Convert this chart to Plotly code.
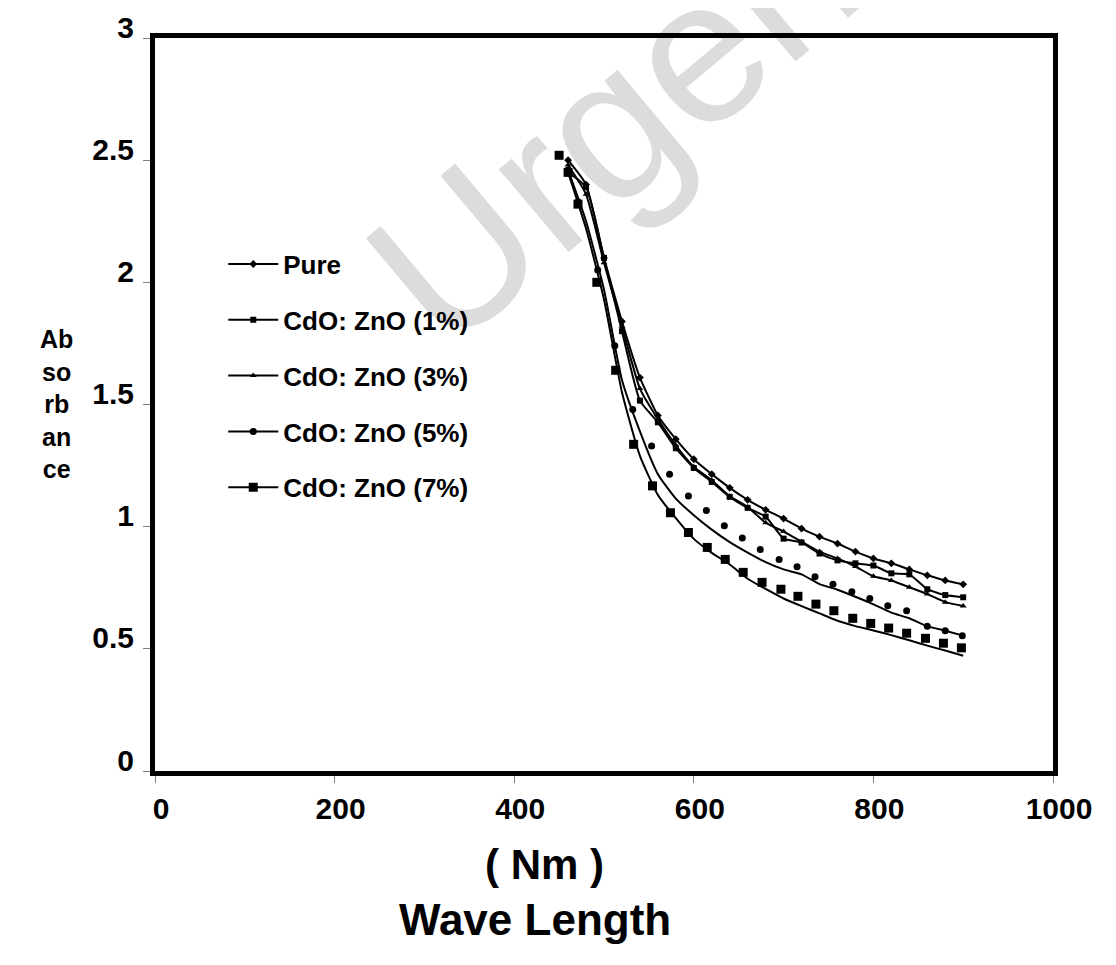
import plotly.graph_objects as go

# ---------------- data ----------------
wavelength = [460, 480, 500, 520, 540, 560, 580, 600, 620, 640, 660, 680,
              700, 720, 740, 760, 780, 800, 820, 840, 860, 880, 900]

pure = [2.50, 2.40, 2.10, 1.84, 1.61, 1.455, 1.358, 1.276, 1.215, 1.159, 1.110, 1.069,
        1.033, 0.992, 0.959, 0.931, 0.898, 0.870, 0.850, 0.825, 0.801, 0.780, 0.764]
zno_1 = [2.45, 2.39, 2.10, 1.80, 1.516, 1.427, 1.321, 1.240, 1.183, 1.122, 1.077, 1.041,
         0.951, 0.935, 0.890, 0.862, 0.850, 0.841, 0.809, 0.805, 0.744, 0.720, 0.711]
zno_3 = [2.48, 2.36, 2.08, 1.82, 1.565, 1.44, 1.333, 1.245, 1.19, 1.125, 1.08, 1.016,
         0.980, 0.939, 0.898, 0.870, 0.837, 0.797, 0.780, 0.752, 0.724, 0.691, 0.675]
zno_5_line = [2.46, 2.25, 1.97, 1.60, 1.39, 1.215, 1.115, 1.047, 0.988, 0.937, 0.894, 0.855,
              0.825, 0.805, 0.765, 0.742, 0.713, 0.682, 0.648, 0.625, 0.593, 0.574, 0.554]
zno_7_line = [2.45, 2.22, 1.93, 1.55, 1.29, 1.13, 1.035, 0.95, 0.893, 0.845, 0.787, 0.745,
              0.706, 0.675, 0.645, 0.615, 0.593, 0.575, 0.556, 0.535, 0.513, 0.493, 0.472]

zno_5_mx = [450, 471, 493, 512, 532, 553, 573, 594, 614, 634, 654, 674,
            695, 715, 735, 755, 776, 796, 816, 837, 860, 880, 899]
zno_5_my = [2.52, 2.33, 2.05, 1.74, 1.48, 1.33, 1.215, 1.126, 1.066, 1.004, 0.954, 0.907,
            0.866, 0.836, 0.795, 0.764, 0.734, 0.706, 0.676, 0.656, 0.592, 0.574, 0.554]
zno_7_mx = [450, 471, 492, 513, 533, 554, 574, 594, 615, 635, 655, 676,
            697, 716, 736, 756, 777, 797, 817, 837, 858, 878, 898]
zno_7_my = [2.52, 2.32, 2.00, 1.64, 1.337, 1.167, 1.057, 0.976, 0.915, 0.866, 0.813, 0.772,
            0.744, 0.715, 0.683, 0.656, 0.625, 0.604, 0.585, 0.564, 0.543, 0.523, 0.504]

names = ["Pure", "CdO: ZnO (1%)", "CdO: ZnO (3%)", "CdO: ZnO (5%)", "CdO: ZnO (7%)"]
x_ticks = [0, 200, 400, 600, 800, 1000]
y_ticks = [0, 0.5, 1, 1.5, 2, 2.5, 3]
y_tick_text = ["0", "0.5", "1", "1.5", "2", "2.5", "3"]

FONT = "Liberation Sans, Arial, sans-serif"
BLACK = "black"

fig = go.Figure()

line_style = dict(color=BLACK, width=2, shape="spline", smoothing=0.5)

fig.add_trace(go.Scatter(x=wavelength, y=pure, name=names[0], mode="lines+markers",
                         line=line_style, legendgroup="g1",
                         marker=dict(symbol="diamond", size=6, color=BLACK)))
fig.add_trace(go.Scatter(x=wavelength, y=zno_1, name=names[1], mode="lines+markers",
                         line=line_style, legendgroup="g2",
                         marker=dict(symbol="square", size=6, color=BLACK)))
fig.add_trace(go.Scatter(x=wavelength, y=zno_3, name=names[2], mode="lines+markers",
                         line=line_style, legendgroup="g3",
                         marker=dict(symbol="triangle-up", size=6, color=BLACK)))

# 5% and 7%: smooth line plus separate marker points
first_only = lambda n: [BLACK] + ["rgba(0,0,0,0)"] * (n - 1)
fig.add_trace(go.Scatter(x=wavelength, y=zno_5_line, name=names[3], mode="lines+markers",
                         line=line_style, legendgroup="g4",
                         marker=dict(symbol="circle", size=7, color=first_only(len(wavelength)))))
fig.add_trace(go.Scatter(x=zno_5_mx, y=zno_5_my, name=names[3], mode="markers",
                         showlegend=False, legendgroup="g4",
                         marker=dict(symbol="circle", size=7, color=BLACK)))
fig.add_trace(go.Scatter(x=wavelength, y=zno_7_line, name=names[4], mode="lines+markers",
                         line=line_style, legendgroup="g5",
                         marker=dict(symbol="square", size=9, color=first_only(len(wavelength)))))
fig.add_trace(go.Scatter(x=zno_7_mx, y=zno_7_my, name=names[4], mode="markers",
                         showlegend=False, legendgroup="g5",
                         marker=dict(symbol="square", size=9, color=BLACK)))

# watermark (drawn beneath the data)
fig.add_shape(type="line", xref="paper", yref="paper",
              x0=0.50, y0=0.930, x1=0.54, y1=0.930, layer="below",
              line=dict(width=0, color="rgba(0,0,0,0)"),
              label=dict(text="Urgent", textangle=-40, textposition="middle",
                         xanchor="center", yanchor="middle",
                         font=dict(family=FONT, size=205, color="#dcdcdc")))

# page has an 8px body margin: figure is sized so that it fits the 1116x965 window
fig.update_layout(
    width=1100, height=949,
    margin=dict(l=147, r=55, t=30, b=186, autoexpand=False),
    paper_bgcolor="white", plot_bgcolor="white",
    font=dict(family=FONT, color=BLACK),
    showlegend=True,
    legend=dict(x=0.076, y=0.7236, xanchor="left", yanchor="top",
                bgcolor="rgba(0,0,0,0)", borderwidth=0, itemwidth=50,
                traceorder="grouped", tracegroupgap=19,
                font=dict(family=FONT, size=26, color=BLACK, weight="bold")),
)

fig.update_xaxes(range=[0, 1000], tickvals=x_ticks, ticktext=[str(v) for v in x_ticks],
                 showgrid=False, zeroline=False, automargin=False,
                 showline=True, linecolor=BLACK, linewidth=5, mirror=True,
                 ticks="outside", ticklen=7, tickwidth=1, tickcolor="#808080",
                 ticklabelstandoff=0, ticklabelshift=6,
                 tickfont=dict(family=FONT, size=30, color=BLACK, weight="bold"))
fig.update_yaxes(range=[0, 3], tickvals=y_ticks, ticktext=y_tick_text,
                 showgrid=False, zeroline=False, automargin=False,
                 showline=True, linecolor=BLACK, linewidth=5, mirror=True,
                 ticks="outside", ticklen=7, tickwidth=1, tickcolor="#808080",
                 ticklabelstandoff=3, ticklabelshift=-11,
                 tickfont=dict(family=FONT, size=30, color=BLACK, weight="bold"))

# axis titles
fig.add_annotation(text="( Nm )", xref="paper", yref="paper", x=0.434, y=-0.128,
                   showarrow=False, xanchor="center", yanchor="middle",
                   font=dict(family=FONT, size=42, color=BLACK, weight="bold"))
fig.add_annotation(text="Wave Length", xref="paper", yref="paper", x=0.423, y=-0.203,
                   showarrow=False, xanchor="center", yanchor="middle",
                   font=dict(family=FONT, size=44, color=BLACK, weight="bold"))
fig.add_annotation(text="Ab<br>so<br>rb<br>an<br>ce", xref="paper", yref="paper",
                   x=-0.110, y=0.501, showarrow=False, xanchor="center", yanchor="middle",
                   align="center",
                   font=dict(family=FONT, size=25, color=BLACK, weight="bold"))

fig.write_html("out.html")
